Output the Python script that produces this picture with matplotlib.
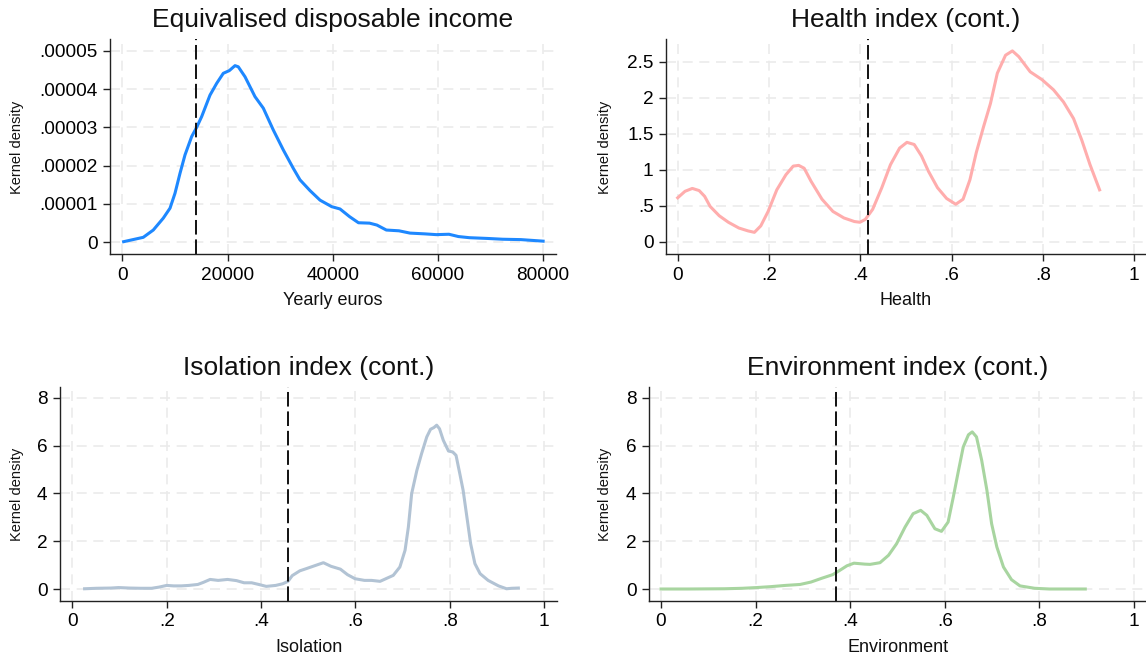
import matplotlib
matplotlib.use("Agg")
import matplotlib.pyplot as plt
import numpy as np

plt.rcParams['font.family'] = ['Liberation Sans', 'DejaVu Sans']

# ---------------- data ----------------
income_x = [250, 3990, 5890, 7790, 9070, 10020, 10970, 11920, 13190, 14140, 15090, 16670,
            17950, 19200, 20340, 21430, 22050, 23330, 25230, 26810, 28710, 30610, 32510,
            33780, 35680, 37590, 39810, 41390, 43200, 44900, 47000, 48400, 50200, 52600,
            54700, 57500, 59700, 62100, 63900, 66000, 69500, 72300, 75800, 77900, 80000]
income_y = [0.016, 0.13, 0.32, 0.63, 0.89, 1.28, 1.80, 2.28, 2.76, 3.00, 3.28, 3.84,
            4.15, 4.41, 4.48, 4.61, 4.58, 4.32, 3.80, 3.50, 2.93, 2.41, 1.93,
            1.63, 1.35, 1.10, 0.93, 0.87, 0.67, 0.51, 0.50, 0.45, 0.32, 0.30,
            0.24, 0.22, 0.20, 0.21, 0.15, 0.12, 0.10, 0.08, 0.07, 0.05, 0.03]  # x 1e-5
income_line = 13950

health_x = [0.0, 0.016, 0.032, 0.047, 0.059, 0.071, 0.091, 0.111, 0.134, 0.154, 0.168, 0.182,
            0.198, 0.217, 0.237, 0.253, 0.265, 0.277, 0.292, 0.316, 0.340, 0.364, 0.387,
            0.399, 0.411, 0.427, 0.447, 0.466, 0.486, 0.502, 0.518, 0.534, 0.549, 0.569,
            0.589, 0.609, 0.625, 0.640, 0.654, 0.670, 0.685, 0.700, 0.718, 0.733, 0.747,
            0.772, 0.798, 0.823, 0.845, 0.867, 0.885, 0.903, 0.924]
health_y = [0.61, 0.70, 0.74, 0.71, 0.63, 0.49, 0.36, 0.27, 0.19, 0.15, 0.13, 0.22,
            0.42, 0.72, 0.93, 1.05, 1.06, 1.02, 0.84, 0.59, 0.42, 0.33, 0.28,
            0.27, 0.31, 0.45, 0.75, 1.07, 1.30, 1.38, 1.35, 1.19, 0.98, 0.75,
            0.60, 0.52, 0.59, 0.86, 1.24, 1.60, 1.92, 2.34, 2.59, 2.65, 2.57,
            2.36, 2.25, 2.11, 1.94, 1.71, 1.41, 1.07, 0.72]
health_line = 0.417

isol_x = [0.026, 0.051, 0.082, 0.098, 0.121, 0.145, 0.168, 0.184, 0.200, 0.215, 0.231, 0.247,
          0.266, 0.278, 0.292, 0.309, 0.329, 0.348, 0.364, 0.380, 0.395, 0.411, 0.431,
          0.446, 0.457, 0.466, 0.482, 0.497, 0.513, 0.532, 0.548, 0.568, 0.583, 0.599,
          0.619, 0.634, 0.652, 0.680, 0.694, 0.705, 0.712, 0.719, 0.730, 0.740, 0.751,
          0.759, 0.766, 0.772, 0.778, 0.786, 0.797, 0.806, 0.813, 0.821, 0.828, 0.836,
          0.844, 0.853, 0.864, 0.881, 0.903, 0.920, 0.931, 0.945]
isol_y = [0.01, 0.03, 0.04, 0.06, 0.04, 0.03, 0.03, 0.08, 0.15, 0.13, 0.13, 0.15,
          0.19, 0.28, 0.40, 0.36, 0.40, 0.35, 0.26, 0.26, 0.19, 0.11, 0.15,
          0.22, 0.32, 0.56, 0.76, 0.86, 0.97, 1.10, 0.95, 0.83, 0.60, 0.43,
          0.36, 0.36, 0.32, 0.57, 0.92, 1.62, 2.59, 3.99, 4.96, 5.66, 6.36,
          6.68, 6.75, 6.85, 6.70, 6.22, 5.77, 5.73, 5.59, 4.82, 4.13, 3.01,
          1.89, 1.06, 0.64, 0.36, 0.13, 0.01, 0.03, 0.04]
isol_line = 0.457

env_x = [0.0, 0.057, 0.134, 0.172, 0.202, 0.233, 0.263, 0.294, 0.317, 0.340, 0.363, 0.378,
         0.393, 0.408, 0.431, 0.442, 0.463, 0.481, 0.498, 0.516, 0.533, 0.549, 0.562,
         0.579, 0.593, 0.607, 0.618, 0.629, 0.639, 0.650, 0.658, 0.667, 0.678, 0.689,
         0.699, 0.710, 0.724, 0.741, 0.759, 0.790, 0.821, 0.859, 0.897]
env_y = [0.0, 0.0, 0.01, 0.03, 0.06, 0.10, 0.15, 0.19, 0.29, 0.45, 0.60, 0.78,
         0.97, 1.08, 1.04, 1.03, 1.10, 1.41, 1.89, 2.59, 3.15, 3.29, 3.08,
         2.52, 2.41, 2.80, 3.85, 4.96, 5.94, 6.45, 6.57, 6.36, 5.38, 4.13,
         2.73, 1.76, 0.92, 0.39, 0.13, 0.03, 0.0, 0.0, 0.0]
env_line = 0.369

income_xticks = [0, 20000, 40000, 60000, 80000]
income_yticks = [0, 1e-5, 2e-5, 3e-5, 4e-5, 5e-5]
income_yticklabels = ['0', '.00001', '.00002', '.00003', '.00004', '.00005']
unit_xticks = [0, 0.2, 0.4, 0.6, 0.8, 1.0]
unit_xticklabels = ['0', '.2', '.4', '.6', '.8', '1']
health_yticks = [0, 0.5, 1, 1.5, 2, 2.5]
health_yticklabels = ['0', '.5', '1', '1.5', '2', '2.5']
idx_yticks = [0, 2, 4, 6, 8]
idx_yticklabels = ['0', '2', '4', '6', '8']

titles = ['Equivalised disposable income', 'Health index (cont.)',
          'Isolation index (cont.)', 'Environment index (cont.)']
xlabels = ['Yearly euros', 'Health', 'Isolation', 'Environment']
ylabel = 'Kernel density'

# ---------------- layout ----------------
W, H = 1146, 659
fig = plt.figure(figsize=(W / 100, H / 100), dpi=100)
fig.patch.set_facecolor('white')


def add_axes_px(left, right, top, bottom):
    return fig.add_axes([left / W, 1 - bottom / H, (right - left) / W, (bottom - top) / H])


def lims(v0, p0, v1, p1, e0, e1):
    s = (v1 - v0) / (p1 - p0)
    return v0 + (e0 - p0) * s, v0 + (e1 - p0) * s


GRID = '#ebebeb'
VDASH = (0, (7.5, 2.5))


def style(ax, xt, xtl, yt, ytl):
    ax.set_xticks(xt)
    ax.set_xticklabels(xtl)
    ax.set_yticks(yt)
    ax.set_yticklabels(ytl)
    for s in ['top', 'right']:
        ax.spines[s].set_visible(False)
    for s in ['left', 'bottom']:
        ax.spines[s].set_color('#222222')
        ax.spines[s].set_linewidth(1.0)
    ax.tick_params(direction='out', length=5, width=1.0, color='#222222',
                   labelsize=13.7, pad=4)
    ax.grid(True, color=GRID, linestyle=(0, (6, 4)), linewidth=1.2)
    ax.set_axisbelow(True)
    ax.set_facecolor('white')


LW = 2.2

# top-left
ax1 = add_axes_px(110, 556, 39, 254)
ax1.set_xlim(*lims(0, 122.3, 80000, 543.1, 110, 556))
ax1.set_ylim(*lims(0, 242.3, 5e-5, 50.7, 254, 39))
style(ax1, income_xticks, [str(v) for v in income_xticks], income_yticks, income_yticklabels)
ax1.plot(income_x, np.array(income_y) * 1e-5, color='#1e88ff', lw=LW, solid_joinstyle='round')
ax1.axvline(income_line, color='#111111', lw=1.4, linestyle=VDASH)

# top-right
ax2 = add_axes_px(666, 1146, 39, 254)
ax2.set_xlim(*lims(0, 677.7, 1, 1134.3, 666, 1146))
ax2.set_ylim(*lims(0, 241.7, 2.5, 61.7, 254, 39))
style(ax2, unit_xticks, unit_xticklabels, health_yticks, health_yticklabels)
ax2.plot(health_x, health_y, color='#ffadad', lw=LW, solid_joinstyle='round')
ax2.axvline(health_line, color='#111111', lw=1.4, linestyle=VDASH)

# bottom-left
ax3 = add_axes_px(60, 557, 387, 601)
ax3.set_xlim(*lims(0, 72.3, 1, 544.3, 60, 557))
ax3.set_ylim(*lims(0, 589, 8, 397.7, 601, 387))
style(ax3, unit_xticks, unit_xticklabels, idx_yticks, idx_yticklabels)
ax3.plot(isol_x, isol_y, color='#b2c3d4', lw=LW, solid_joinstyle='round')
ax3.axvline(isol_line, color='#111111', lw=1.4, linestyle=VDASH)

# bottom-right
ax4 = add_axes_px(649, 1146, 387, 601)
ax4.set_xlim(*lims(0, 661, 1, 1134, 649, 1146))
ax4.set_ylim(*lims(0, 589, 8, 397.7, 601, 387))
style(ax4, unit_xticks, unit_xticklabels, idx_yticks, idx_yticklabels)
ax4.plot(env_x, env_y, color='#a8d5a0', lw=LW, solid_joinstyle='round')
ax4.axvline(env_line, color='#111111', lw=1.4, linestyle=VDASH)

# titles and labels
title_pos = [(333, 20), (906, 20), (309, 368), (898, 368)]
xlabel_pos = [(333, 301), (906, 301), (309, 647), (898, 647)]
ylabel_pos = [(17, 147), (605, 147), (17, 494), (605, 494)]
for t, (x, y) in zip(titles, title_pos):
    fig.text(x / W, 1 - y / H, t, ha='center', va='center', fontsize=19, color='#111111')
for t, (x, y) in zip(xlabels, xlabel_pos):
    fig.text(x / W, 1 - y / H, t, ha='center', va='center', fontsize=13, color='#111111')
for (x, y) in ylabel_pos:
    fig.text(x / W, 1 - y / H, ylabel, ha='center', va='center', rotation=90,
             fontsize=10.5, color='#111111')

fig.savefig('out.png', dpi=100, facecolor='white')
